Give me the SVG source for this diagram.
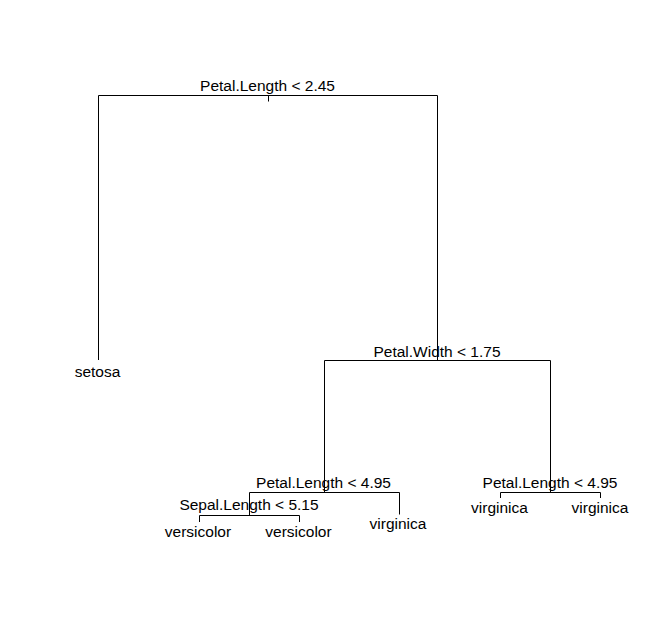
<svg xmlns="http://www.w3.org/2000/svg" width="661" height="636" viewBox="0 0 661 636">
  <style>
    .edge { fill: none; stroke: #000; stroke-width: 1; }
    text { font-family: "Liberation Sans", Arial, sans-serif; font-size: 15.5px; fill: #000; text-anchor: middle; }
  </style>
  <rect width="661" height="636" fill="#fff"/>

  <!-- branch segments -->
  <g id="connectors">
    <!-- root split -->
    <path class="edge" d="M268.5,95.5 V101.5 M98.5,360 V95.5 H437.5 V360.5"/>
    <!-- Petal.Width split -->
    <path class="edge" d="M324.5,492 V360.5 H550.5 V492.5"/>
    <!-- left Petal.Length split -->
    <path class="edge" d="M249.5,515 V492.5 H399.5 V514.5"/>
    <!-- Sepal.Length split -->
    <path class="edge" d="M199.5,522 V515.5 H299.5 V522"/>
    <!-- right Petal.Length split -->
    <path class="edge" d="M500.5,498 V492.5 H600.5 V498"/>
  </g>

  <g id="n-root"><text x="267.5" y="91">Petal.Length &lt; 2.45</text></g>
  <g id="n-setosa"><text x="97.5" y="376.5">setosa</text></g>
  <g id="n-petal-width"><text x="437" y="357">Petal.Width &lt; 1.75</text></g>
  <g id="n-petal-length-left"><text x="323.5" y="487.5">Petal.Length &lt; 4.95</text></g>
  <g id="n-sepal-length"><text x="249" y="509.5">Sepal.Length &lt; 5.15</text></g>
  <g id="n-versicolor-1"><text x="198" y="537">versicolor</text></g>
  <g id="n-versicolor-2"><text x="298.5" y="537">versicolor</text></g>
  <g id="n-virginica-1"><text x="398" y="528.5">virginica</text></g>
  <g id="n-petal-length-right"><text x="550" y="487.5">Petal.Length &lt; 4.95</text></g>
  <g id="n-virginica-2"><text x="499.5" y="513">virginica</text></g>
  <g id="n-virginica-3"><text x="600" y="513">virginica</text></g>
</svg>
